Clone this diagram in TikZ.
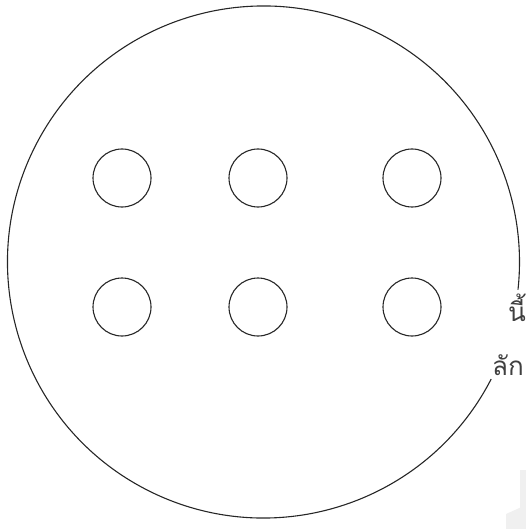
\documentclass[tikz,border=0pt]{standalone}
\usepackage{fontspec}
\newfontfamily\thaifont[Script=Thai]{Loma}
\begin{document}
\begin{tikzpicture}[x=1pt,y=-1pt,
  outline/.style={draw=black!85, line width=1.1pt},
  hole/.style={circle, draw=black!85, line width=1.1pt, minimum size=58pt, inner sep=0pt},
  thaitext/.style={anchor=base west, inner sep=0pt, text=black!75, font=\thaifont\fontsize{26}{30}\selectfont}]
\useasboundingbox (0,0) rectangle (526,529);
% faint grey marks at bottom right
\fill[black!6] (520,470) rectangle (526,529);
\fill[black!6] (506,514) -- (526,505) -- (526,529) -- (506,529) -- cycle;
% outer circle with gap on the right
\coordinate (c) at (263.5,262);
\draw[outline] ([shift={(27.2:256)}]c) arc[start angle=27.2, end angle=366.2, radius=256];
% six holes
\node[hole] (h11) at (122,178) {};
\node[hole] (h12) at (258,178) {};
\node[hole] (h13) at (412,178) {};
\node[hole] (h21) at (122,307) {};
\node[hole] (h22) at (258,307) {};
\node[hole] (h23) at (412,307) {};
% text cut at the right edge, as in the reference
\node[thaitext] (t1) at (508,321) {นี้ต};
\node[thaitext] (t2) at (492,375) {ลัก};
\end{tikzpicture}
\end{document}
